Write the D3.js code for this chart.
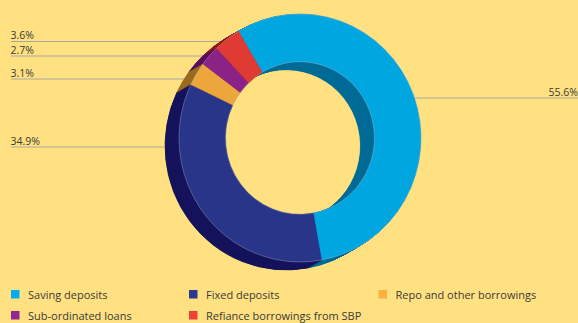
<!DOCTYPE html>
<html>
<head>
<meta charset="utf-8">
<script src="https://cdn.jsdelivr.net/npm/d3@7"></script>
<style>
  html, body { margin: 0; padding: 0; background: #FFE181; }
  svg { display: block; }
  text { font-family: "Open Sans", Lato, sans-serif; fill: #3a3a3a; }
</style>
</head>
<body>
<svg id="chart" width="578" height="323"></svg>
<script>
// ---- data ----
const categories = ["Saving deposits", "Fixed deposits", "Repo and other borrowings", "Sub-ordinated loans", "Refiance borrowings from SBP"];
const values = [55.6, 34.9, 3.1, 2.7, 3.6];
const valueLabels = ["55.6%", "34.9%", "3.1%", "2.7%", "3.6%"];

// ---- styles ----
const topColors = ["#00A6E0", "#283588", "#EDA63C", "#8B2286", "#E03B32"];
const sideColors = ["#006B96", "#16145C", "#9A6A20", "#5A0E5E", "#8C1E18"];
const legendColors = ["#00AEEF", "#2B3990", "#FBB040", "#92278F", "#EF4136"];

// ---- layout ----
const W = 578, H = 323;
const cx = 300, cy = 138, R = 121, r = 74.5, yScale = 124 / 121;
const depth = { dx: -14, dy: 8, steps: 30 };
const startDeg = -30.6;
const labelLayout = [
  { side: "right", y: 98 },
  { side: "left", y: 147 },
  { side: "left", y: 79 },
  { side: "left", y: 56 },
  { side: "left", y: 41.5 }
];
const legendCols = [11, 189, 378.5];
const legendRows = [290, 311];
const labelFont = 10.5, legendFont = 11;

const svg = d3.select("#chart");
svg.append("rect").attr("width", W).attr("height", H).attr("fill", "#FFE181");

const pie = d3.pie().sort(null).value(d => d)
  .startAngle(startDeg * Math.PI / 180)
  .endAngle(startDeg * Math.PI / 180 + 2 * Math.PI);
const arcs = pie(values);
const arc = d3.arc().innerRadius(r).outerRadius(R);

// ---- leader lines & labels ----
const lab = svg.append("g");
labelLayout.forEach((L, i) => {
  const dy = (L.y - cy) / (R * yScale);
  const half = R * Math.sqrt(Math.max(0, 1 - dy * dy));
  if (L.side === "left") {
    const xEnd = cx - half + 12;
    lab.append("line").attr("x1", 11).attr("x2", xEnd).attr("y1", L.y).attr("y2", L.y)
      .attr("stroke", "#a8a8a0").attr("stroke-width", 1);
    lab.append("text").attr("x", 10.5).attr("y", L.y - 2.5).attr("font-size", labelFont).text(valueLabels[i]);
  } else {
    const xStart = cx + half - 12;
    lab.append("line").attr("x1", xStart).attr("x2", W).attr("y1", L.y).attr("y2", L.y)
      .attr("stroke", "#a8a8a0").attr("stroke-width", 1);
    lab.append("text").attr("x", 578).attr("y", L.y - 2.5).attr("text-anchor", "end")
      .attr("font-size", labelFont).text(valueLabels[i]);
  }
});

// ---- extruded sides ----
const donut = svg.append("g");
for (let s = depth.steps; s >= 1; s--) {
  const t = s / depth.steps;
  const g = donut.append("g")
    .attr("transform", `translate(${cx + depth.dx * t},${cy + depth.dy * t}) scale(1,${yScale})`);
  g.selectAll("path").data(arcs).join("path")
    .attr("d", arc)
    .attr("fill", (d, i) => sideColors[i])
    .attr("stroke", (d, i) => sideColors[i])
    .attr("stroke-width", 0.6);
}

// ---- top face ----
const face = donut.append("g").attr("transform", `translate(${cx},${cy}) scale(1,${yScale})`);
face.selectAll("path").data(arcs).join("path")
  .attr("d", arc)
  .attr("fill", (d, i) => topColors[i])
  .attr("stroke", (d, i) => topColors[i])
  .attr("stroke-width", 0.4);
face.append("path")
  .attr("d", d3.arc().innerRadius(r).outerRadius(R)({ startAngle: 0, endAngle: 2 * Math.PI }))
  .attr("fill", "none")
  .attr("stroke", "rgba(190,190,200,0.55)")
  .attr("stroke-width", 0.6);

// ---- legend ----
const leg = svg.append("g");
categories.forEach((c, i) => {
  const col = i % 3, row = Math.floor(i / 3);
  const x = legendCols[col], y = legendRows[row];
  leg.append("rect").attr("x", x).attr("y", y).attr("width", 8.5).attr("height", 8.5).attr("fill", legendColors[i]);
  leg.append("text").attr("x", x + 17).attr("y", y + 8.7).attr("font-size", legendFont).text(c);
});
</script>
</body>
</html>
